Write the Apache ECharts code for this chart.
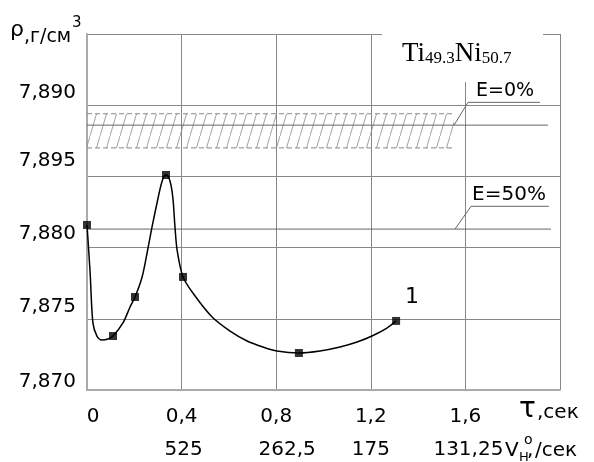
<!DOCTYPE html>
<html>
<head>
<meta charset="utf-8">
<script src="https://cdn.jsdelivr.net/npm/echarts@6/dist/echarts.min.js"></script>
<style>
html, body { margin: 0; padding: 0; background: #fff; }
#main { width: 594px; height: 462px; }
</style>
</head>
<body>
<div id="main"></div>
<script>
// подписи осей
const tauLabels = ['0', '0,4', '0,8', '1,2', '1,6', '']
const speedLabels = ['', '525', '262,5', '175', '131,25', '']
const rhoLabels = ['7,870', '7,875', '7,880', '7,895', '7,890', '']

// экспериментальные точки (кривая 1)
const markTau = [0, 0.110, 0.203, 0.334, 0.406, 0.896, 1.307]
const markRho = [7.88159, 7.87379, 7.87653, 7.88510, 7.87794, 7.87260, 7.87485]

// сама кривая, снята по рисунку
const curveTau = [0, 0.013, 0.025, 0.042, 0.063, 0.089, 0.110, 0.152, 0.182, 0.203, 0.233, 0.254,
	0.275, 0.296, 0.313, 0.326, 0.334, 0.343, 0.355, 0.364, 0.372, 0.381, 0.406, 0.457, 0.529,
	0.605, 0.677, 0.744, 0.803, 0.896, 0.985, 1.070, 1.142, 1.205, 1.268, 1.307]
const curveRho = [7.88159, 7.87829, 7.87471, 7.87379, 7.87351, 7.87358, 7.87379, 7.87471, 7.87583,
	7.87653, 7.87794, 7.87962, 7.88145, 7.88313, 7.88440, 7.88503, 7.88510, 7.88503, 7.88440,
	7.88334, 7.88145, 7.87983, 7.87794, 7.87660, 7.87513, 7.87414, 7.87344, 7.87302, 7.87274,
	7.87260, 7.87274, 7.87302, 7.87337, 7.87379, 7.87435, 7.87485]

// заштрихованная полоса и уровни E
const bandTau = [0, 1.552]
const bandRho = [7.8870, 7.8894]
const e0Line = [[0, 7.8886], [1.949, 7.8886]]
const e0Leader = [[1.552, 7.8886], [1.611, 7.8902], [1.915, 7.8902]]
const e50Line = [[0, 7.8813], [1.962, 7.8813]]
const e50Leader = [[1.556, 7.8813], [1.624, 7.8829], [1.953, 7.8829]]

const font = "'DejaVu Sans', sans-serif"
const serif = 'Liberation Serif'

// штриховка
const hatch = document.createElement('canvas')
hatch.width = 10
hatch.height = 34
const hctx = hatch.getContext('2d')
hctx.strokeStyle = '#8c8c8c'
hctx.lineWidth = 0.8
hctx.beginPath()
hctx.moveTo(0, 34)
hctx.lineTo(10, 0)
hctx.stroke()

const richOf = (pads) => {
	const r = {}
	pads.forEach((p, i) => {
		r['l' + i] = { fontFamily: font, fontSize: 20, color: '#000', padding: p }
	})
	return r
}

const thinLine = (data, color) => ({
	type: 'line',
	data: data,
	symbol: 'none',
	silent: true,
	lineStyle: { color: color || '#666', width: 1 },
	z: 3
})

const chart = echarts.init(document.getElementById('main'))

const option = {
	animation: false,
	grid: { left: 87, right: 34, top: 34, bottom: 72 },
	xAxis: [
		{
			type: 'value',
			min: 0,
			max: 2,
			interval: 0.4,
			axisLine: { lineStyle: { color: '#aaa', width: 2 } },
			axisTick: { show: false },
			splitLine: { show: true, lineStyle: { color: '#888', width: 1 } },
			axisLabel: {
				margin: 17,
				showMinLabel: true,
				formatter: (v) => {
					const i = Math.round(v / 0.4)
					return tauLabels[i] ? '{l' + i + '|' + tauLabels[i] + '}' : ''
				},
				rich: richOf([[0, 0, 0, 12], 0, 0, 0, 0, 0])
			}
		},
		{
			type: 'value',
			position: 'bottom',
			min: 0,
			max: 2,
			interval: 0.4,
			axisLine: { show: false },
			axisTick: { show: false },
			splitLine: { show: false },
			axisLabel: {
				margin: 50,
				formatter: (v) => {
					const i = Math.round(v / 0.4)
					return speedLabels[i] ? '{l' + i + '|' + speedLabels[i] + '}' : ''
				},
				rich: richOf([0, [0, 0, 0, 4], [0, 0, 0, 22], 0, [0, 0, 0, 6], 0])
			}
		}
	],
	yAxis: {
		type: 'value',
		min: 7.870,
		max: 7.895,
		interval: 0.005,
		axisLine: { show: true, lineStyle: { color: '#aaa', width: 2 } },
		axisTick: { show: false },
		splitLine: { show: true, lineStyle: { color: '#888', width: 1 } },
		axisLabel: {
			margin: 11,
			formatter: (v) => {
				const i = Math.round((v - 7.870) / 0.005)
				return rhoLabels[i] ? '{l' + i + '|' + rhoLabels[i] + '}' : ''
			},
			rich: richOf([[0, 0, 16, 0], [0, 0, 24, 0], [0, 0, 28, 0], [0, 0, 32, 0], [0, 0, 24, 0], 0])
		}
	},
	graphic: [
		{ type: 'rect', z: 100, shape: { x: 382, y: 22, width: 161, height: 60 }, style: { fill: '#fff' } },
		{
			type: 'text', z: 101,
			style: {
				x: 402, y: 54, verticalAlign: 'middle',
				text: '{b|Ti}{s|49.3}{b|Ni}{s|50.7}',
				rich: {
					b: { fontFamily: serif, fontSize: 27, fill: '#000', verticalAlign: 'middle' },
					s: { fontFamily: serif, fontSize: 17, fill: '#000', verticalAlign: 'bottom' }
				}
			}
		},
		// подпись оси плотности
		{ type: 'text', z: 101, style: { x: 10, y: 30, text: 'ρ', font: '22px ' + font, fill: '#000', verticalAlign: 'middle' } },
		{ type: 'text', z: 101, style: { x: 24, y: 37, text: ',г/см', font: '19px ' + font, fill: '#000', verticalAlign: 'middle' } },
		{ type: 'text', z: 101, style: { x: 72, y: 23, text: '3', font: '15px ' + font, fill: '#000', verticalAlign: 'middle' } },
		// подписи оси времени и скорости
		{ type: 'text', z: 101, style: { x: 519, y: 410, text: 'τ', font: '28px ' + font, fill: '#000', verticalAlign: 'middle' } },
		{ type: 'text', z: 101, style: { x: 537, y: 413, text: ',сек', font: '20px ' + font, fill: '#000', verticalAlign: 'middle' } },
		{ type: 'text', z: 101, style: { x: 505, y: 451, text: 'V', font: '20px ' + font, fill: '#000', verticalAlign: 'middle' } },
		{ type: 'text', z: 101, style: { x: 519, y: 458, text: 'H', font: '13px ' + font, fill: '#000', verticalAlign: 'middle' } },
		{ type: 'text', z: 101, style: { x: 527, y: 451, text: ',', font: '20px ' + font, fill: '#000', verticalAlign: 'middle' } },
		{ type: 'text', z: 101, style: { x: 524, y: 440, text: 'o', font: '14px ' + font, fill: '#000', verticalAlign: 'middle' } },
		{ type: 'text', z: 101, style: { x: 535, y: 451, text: '/сек', font: '20px ' + font, fill: '#000', verticalAlign: 'middle' } },
		// уровни E и номер кривой
		{ type: 'text', z: 101, style: { x: 505, y: 91, text: 'E=0%', font: '19px ' + font, fill: '#000', align: 'center', verticalAlign: 'middle' } },
		{ type: 'text', z: 101, style: { x: 509, y: 195, text: 'E=50%', font: '20px ' + font, fill: '#000', align: 'center', verticalAlign: 'middle' } },
		{ type: 'text', z: 101, style: { x: 412, y: 297, text: '1', font: '22px ' + font, fill: '#000', align: 'center', verticalAlign: 'middle' } }
	],
	series: [
		{
			type: 'line',
			data: [[bandTau[0], bandRho[1]], [bandTau[1], bandRho[1]]],
			symbol: 'none',
			silent: true,
			lineStyle: { color: '#888', width: 1, type: [5, 3] },
			z: 2,
			markArea: {
				silent: true,
				itemStyle: { color: { image: hatch, repeat: 'repeat' } },
				data: [[{ xAxis: bandTau[0], yAxis: bandRho[0] }, { xAxis: bandTau[1], yAxis: bandRho[1] }]]
			}
		},
		{
			type: 'line',
			data: [[bandTau[0], bandRho[0]], [bandTau[1], bandRho[0]]],
			symbol: 'none',
			silent: true,
			lineStyle: { color: '#888', width: 1, type: [5, 3] },
			z: 2
		},
		thinLine(e0Line),
		thinLine(e0Leader),
		thinLine(e50Line),
		thinLine(e50Leader),
		{
			name: '1',
			type: 'line',
			data: curveTau.map((t, i) => [t, curveRho[i]]),
			smooth: 0.3,
			showSymbol: false,
			lineStyle: { color: '#000', width: 1.5 },
			z: 5
		},
		{
			type: 'scatter',
			data: markTau.map((t, i) => [t, markRho[i]]),
			symbol: 'rect',
			symbolSize: 8,
			itemStyle: { color: '#000' },
			z: 6
		}
	]
}

chart.setOption(option)
</script>
</body>
</html>
